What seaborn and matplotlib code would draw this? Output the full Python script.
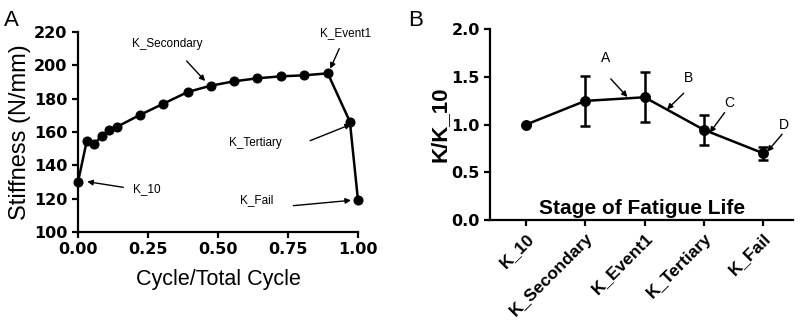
import pandas as pd
import matplotlib
matplotlib.use("Agg")
import matplotlib.pyplot as plt
import seaborn as sns

# === DATA ===
# Panel A: stiffness over normalised fatigue life
cycle_frac = [0.0, 0.031, 0.057, 0.085, 0.112, 0.140, 0.221, 0.305, 0.392,
              0.474, 0.557, 0.639, 0.724, 0.807, 0.892, 0.971, 1.0]
stiffness = [130, 154.4, 152.8, 157.6, 161.2, 163.2, 170.2, 177, 184,
             187.8, 190.4, 192.2, 193.4, 194, 195.2, 166.2, 119]

# Panel B: normalised stiffness per stage (mean and error)
stages = ["K_10", "K_Secondary", "K_Event1", "K_Tertiary", "K_Fail"]
ratio_mean = [1.0, 1.249, 1.287, 0.946, 0.70]
ratio_err = [0.0, 0.262, 0.26, 0.155, 0.07]

# annotation labels
a_labels = ["K_Secondary", "K_Event1", "K_Tertiary", "K_10", "K_Fail"]
b_labels = ["A", "B", "C", "D"]


def style_axes(ax, num_x=True):
    sns.despine(ax=ax)
    for s in ["left", "bottom"]:
        ax.spines[s].set_linewidth(1.6)
    ax.tick_params(width=1.6, length=4, direction="out")
    labs = ax.get_yticklabels() + (ax.get_xticklabels() if num_x else [])
    for lab in labs:
        lab.set_fontweight("bold")
        lab.set_fontfamily("DejaVu Sans")
        lab.set_fontsize(11.5)
    if not num_x:
        for lab in ax.get_xticklabels():
            lab.set_fontweight("bold")
            lab.set_fontsize(12.5)


sns.set_style("ticks")
plt.rcParams["font.family"] = ["Liberation Sans", "DejaVu Sans"]
for k in ["text.color", "axes.labelcolor", "xtick.color", "ytick.color",
          "axes.edgecolor"]:
    plt.rcParams[k] = "black"

fig = plt.figure(figsize=(8, 3.2), dpi=100)

# === Panel A ===
ax1 = fig.add_axes([0.0975, 0.275, 0.35, 0.625])
df_a = pd.DataFrame({"cycle": cycle_frac, "stiffness": stiffness})
sns.lineplot(data=df_a, x="cycle", y="stiffness", ax=ax1, color="black",
             lw=1.8, marker="o", markersize=6.5, markeredgecolor="black",
             clip_on=False)
ax1.set_xlim(0, 1)
ax1.set_ylim(100, 220)
ax1.set_xticks([0, 0.25, 0.5, 0.75, 1.0])
ax1.set_xticklabels(["0.00", "0.25", "0.50", "0.75", "1.00"])
ax1.set_yticks(range(100, 221, 20))
ax1.set_xlabel("Cycle/Total Cycle", fontsize=15.5, labelpad=8)
ax1.set_ylabel("Stiffness (N/mm)", fontsize=17, labelpad=2)
style_axes(ax1)

arrow_kw = dict(arrowstyle="-|>", lw=1.0, color="black", mutation_scale=8,
                shrinkA=0, shrinkB=0)
# text position, arrow tail, arrow head
a_ann = [
    ((0.32, 212.5), (0.388, 202.6), (0.454, 190.6)),
    ((0.955, 219.5), (0.933, 210), (0.901, 198)),
    ((0.632, 153.5), (0.829, 154.8), (0.975, 164.6)),
    ((0.245, 125.8), (0.162, 126.8), (0.033, 130.2)),
    ((0.638, 119.3), (0.769, 115.8), (0.975, 119)),
]
for lab, (tpos, tail, head) in zip(a_labels, a_ann):
    ax1.text(tpos[0], tpos[1], lab, fontsize=8.5, ha="center", va="center")
    ax1.annotate("", xy=head, xytext=tail, arrowprops=arrow_kw)

fig.text(0.005, 0.937, "A", fontsize=16, va="center", ha="left")

# === Panel B ===
ax2 = fig.add_axes([0.613, 0.3125, 0.378, 0.596])
df_b = pd.DataFrame({"stage": stages, "ratio": ratio_mean})
sns.pointplot(data=df_b, x="stage", y="ratio", ax=ax2, color="black",
              linewidth=1.8, markersize=6.5, errorbar=None)
ax2.errorbar(range(len(stages)), ratio_mean, yerr=ratio_err, fmt="none",
             ecolor="black", elinewidth=1.8, capsize=3.5, capthick=1.8)
ax2.set_xlim(-0.6, 4.5)
ax2.set_ylim(0, 2.0)
ax2.set_yticks([0, 0.5, 1.0, 1.5, 2.0])
ax2.set_yticklabels(["0.0", "0.5", "1.0", "1.5", "2.0"])
ax2.set_xticks(range(len(stages)))
ax2.set_xticklabels(stages, rotation=45, ha="right", rotation_mode="anchor")
ax2.set_xlabel("")
ax2.set_ylabel("K/K_10", fontsize=16, fontweight="bold", labelpad=1)
ax2.text(0.5, 0.06, "Stage of Fatigue Life", transform=ax2.transAxes,
         fontsize=15, fontweight="bold", ha="center", va="center")
style_axes(ax2, num_x=False)

b_ann = [
    ((1.34, 1.70), (1.43, 1.48), (1.71, 1.29)),
    ((2.74, 1.49), (2.66, 1.33), (2.38, 1.16)),
    ((3.43, 1.225), (3.35, 1.126), (3.10, 0.916)),
    ((4.35, 1.0), (4.32, 0.90), (4.07, 0.717)),
]
for lab, (tpos, tail, head) in zip(b_labels, b_ann):
    ax2.text(tpos[0], tpos[1], lab, fontsize=10, ha="center", va="center")
    ax2.annotate("", xy=head, xytext=tail, arrowprops=arrow_kw,
                 annotation_clip=False)

fig.text(0.51, 0.937, "B", fontsize=16, va="center", ha="left")

fig.savefig("out.png", dpi=100)
